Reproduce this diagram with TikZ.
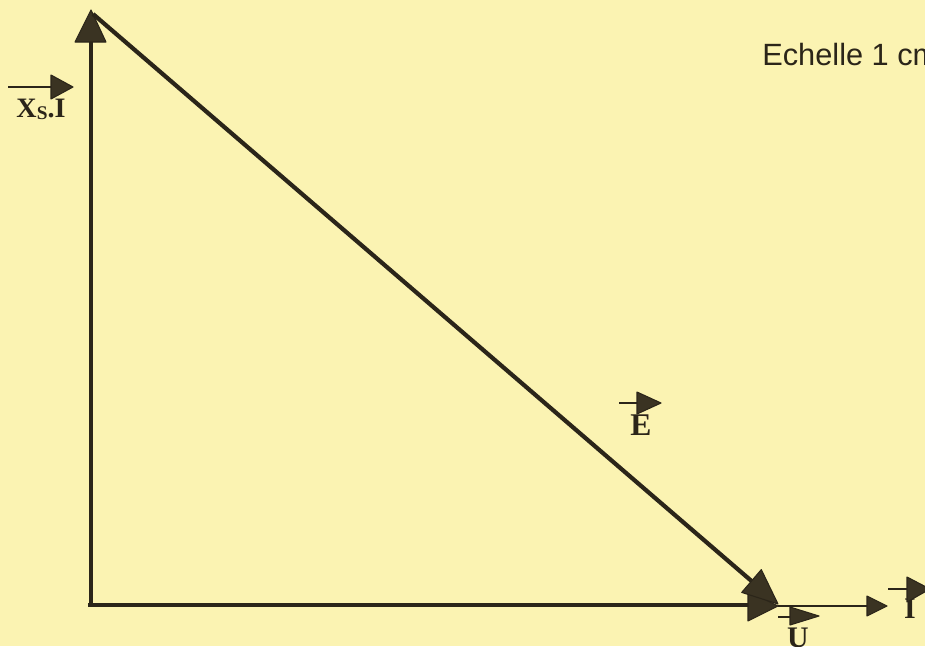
\documentclass[tikz,border=0pt]{standalone}
\usepackage{fontspec}
\setmainfont{Liberation Serif}
\newfontfamily\arialf{Liberation Sans}
\usetikzlibrary{arrows.meta}
\definecolor{paper}{HTML}{FBF3B2}
\definecolor{ink}{HTML}{2B2519}
\definecolor{headfill}{HTML}{3A3322}
\tikzset{
  vec/.style={draw=ink,line width=2.8pt},
  headtri/.style={fill=headfill,draw=ink,line width=0.6pt,line join=round},
  lblarrow/.style={draw=ink,line width=1.4pt},
  lbl/.style={font=\bfseries\fontsize{17}{17}\selectfont,text=ink,inner sep=0pt,anchor=base},
}
\begin{document}
\begin{tikzpicture}[x=0.02cm,y=-0.02cm]
\useasboundingbox (0,0) rectangle (925,646);
\clip (0,0) rectangle (925,646);
\fill[paper] (0,0) rectangle (925,646);
% coordinates
\coordinate (O) at (91,604);
\coordinate (A) at (91,10);
\coordinate (Abase) at (91,42);
\coordinate (D0) at (93,14);
\coordinate (B) at (778,604);
\coordinate (Ebase) at (751.5,581);
\coordinate (Ub) at (748,605);
\coordinate (Ut) at (778,606);
\coordinate (Ib) at (867,606);
\coordinate (It) at (887,606);
% axis I (thin)
\draw[draw=ink,line width=1.4pt] (Ut) -- (Ib);
\fill[headtri] (It) -- (867,596) -- (867,616) -- cycle;
% vector U (horizontal, thick)
\draw[vec,line cap=butt] (88,605) -- (Ub);
% vertical vector Xs.I
\draw[vec,line cap=butt] (O) -- (Abase);
\fill[headtri] (A) -- (75,42) -- (106,42) -- cycle;
% diagonal vector E
\draw[draw=ink,line width=2.4pt] (D0) -- (Ebase);
\fill[headtri] (Ut) -- (748,591) -- (748,621) -- cycle;
\fill[headtri] (B) -- (741.7,592.4) -- (761.3,569.6) -- cycle;
% labels
\node[lbl,font=\bfseries\fontsize{16}{16}\selectfont] (xs) at (41,117) {X\raisebox{-1.5pt}{\fontsize{11}{11}\selectfont S}.I};
\draw[lblarrow] (8,87) -- (52,87);
\fill[headtri] (73,87) -- (51,75) -- (51,99) -- cycle;
\node[lbl,font=\bfseries\fontsize{18}{18}\selectfont] (e) at (641,435) {E};
\draw[lblarrow] (619,403) -- (638,403);
\fill[headtri] (661,403) -- (637,392) -- (637,414) -- cycle;
\node[lbl] (u) at (798,647) {U};
\draw[lblarrow] (778,617) -- (792,617);
\fill[headtri] (819,616) -- (790,607) -- (790,625) -- cycle;
\node[lbl] (i) at (910,618) {I};
\draw[lblarrow] (888,589) -- (908,589);
\fill[headtri] (930,589) -- (907,577) -- (907,602) -- cycle;
\node[font=\arialf\fontsize{17.5}{17.5}\selectfont,text=ink,anchor=base west,inner sep=0pt] (scale) at (762,65) {Echelle 1 cm};
\end{tikzpicture}
\end{document}
